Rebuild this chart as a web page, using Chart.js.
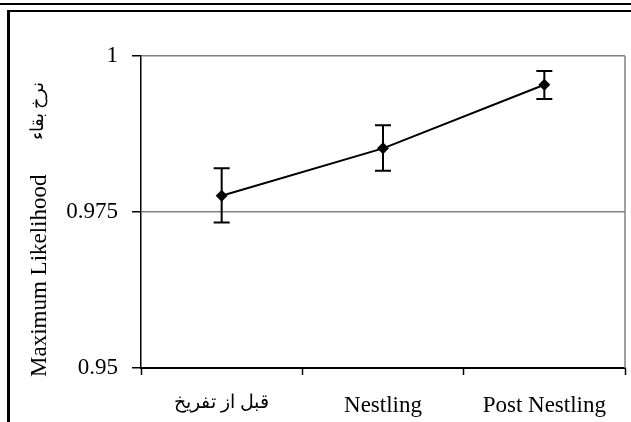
<!DOCTYPE html>
<html>
<head>
<meta charset="utf-8">
<script src="https://cdn.jsdelivr.net/npm/chart.js@4"></script>
<style>
  html, body { margin: 0; padding: 0; background: #fff; }
  #wrap { position: relative; width: 631px; height: 422px; overflow: hidden; }
  #topLine { position: absolute; left: 0; top: 3px; width: 631px; height: 2px; background: #000; }
  #frame { position: absolute; left: 7px; top: 10px; width: 640px; height: 430px;
           border-top: 2px solid #000; border-left: 3px solid #000; }
  canvas { position: absolute; left: 0; top: 0; }
</style>
</head>
<body>
<div id="wrap">
  <div id="topLine"></div>
  <div id="frame"></div>
  <canvas id="chart" width="631" height="422"></canvas>
</div>
<script>
const categories = ['قبل از تفریخ', 'Nestling', 'Post Nestling'];
const survival = [0.9776, 0.9852, 0.9954];
const errLow = [0.9733, 0.9816, 0.9931];
const errHigh = [0.9820, 0.9889, 0.9976];
const yTicks = [0.95, 0.975, 1];
const yTitle = 'Maximum Likelihood';
const yTitleFa = 'نرخ بقاء';

const FONT = '"Liberation Serif", "Times New Roman", serif';

const errorBars = {
    id: 'errorBars',
    beforeDatasetsDraw(chart) {
        const ctx = chart.ctx;
        const x = chart.scales.x, y = chart.scales.y;
        ctx.save();
        ctx.strokeStyle = '#000';
        ctx.lineWidth = 2;
        survival.forEach((v, i) => {
            const px = x.getPixelForValue(i);
            const top = y.getPixelForValue(errHigh[i]);
            const bot = y.getPixelForValue(errLow[i]);
            ctx.beginPath();
            ctx.moveTo(px, top); ctx.lineTo(px, bot);
            ctx.moveTo(px - 8, top); ctx.lineTo(px + 8, top);
            ctx.moveTo(px - 8, bot); ctx.lineTo(px + 8, bot);
            ctx.stroke();
        });
        ctx.restore();
    }
};

const frameBits = {
    id: 'frameBits',
    afterDraw(chart) {
        const ctx = chart.ctx;
        const a = chart.chartArea;
        ctx.save();
        // grey right edge of the plot
        ctx.strokeStyle = '#808080';
        ctx.lineWidth = 1.5;
        ctx.beginPath();
        ctx.moveTo(a.right, a.top);
        ctx.lineTo(a.right, a.bottom);
        ctx.stroke();
        // rotated y title
        ctx.fillStyle = '#000';
        ctx.translate(40, 377);
        ctx.rotate(-Math.PI / 2);
        ctx.textBaseline = 'middle';
        ctx.textAlign = 'left';
        ctx.font = '23px ' + FONT;
        ctx.fillText(yTitle, 0, 0);
        ctx.font = '18px ' + FONT;
        ctx.fillText(yTitleFa, 237, -2);
        ctx.restore();
    }
};

new Chart(document.getElementById('chart'), {
    type: 'line',
    data: {
        labels: categories,
        datasets: [{
            data: survival,
            borderColor: '#000',
            borderWidth: 2,
            backgroundColor: '#000',
            pointStyle: 'rectRot',
            pointRadius: 6,
            pointBorderWidth: 0,
            tension: 0
        }]
    },
    options: {
        responsive: false,
        animation: false,
        events: [],
        layout: { padding: { top: 56, right: 3, bottom: 0, left: 0 } },
        plugins: { legend: { display: false }, tooltip: { enabled: false } },
        scales: {
            x: {
                offset: true,
                afterFit: s => { s.height = 54; },
                grid: { offset: true, drawOnChartArea: false, tickLength: 7, tickColor: '#000', tickWidth: 1.5 },
                border: { color: '#000', width: 2 },
                ticks: { color: '#000', padding: 17,
                         font: c => ({ family: FONT, size: c.index === 0 ? 19 : 23 }) }
            },
            y: {
                min: 0.95,
                max: 1,
                afterFit: s => { s.width = 141; },
                afterBuildTicks: s => { s.ticks = yTicks.map(v => ({ value: v })); },
                grid: {
                    color: c => c.tick && c.tick.value === 0.95 ? '#000' : '#808080',
                    lineWidth: 1.5,
                    tickLength: 9,
                    tickColor: '#000'
                },
                border: { color: '#000', width: 1.5 },
                ticks: { color: '#000', padding: 14, font: { family: FONT, size: 23 },
                         callback: v => String(v) }
            }
        }
    },
    plugins: [errorBars, frameBits]
});
</script>
</body>
</html>
